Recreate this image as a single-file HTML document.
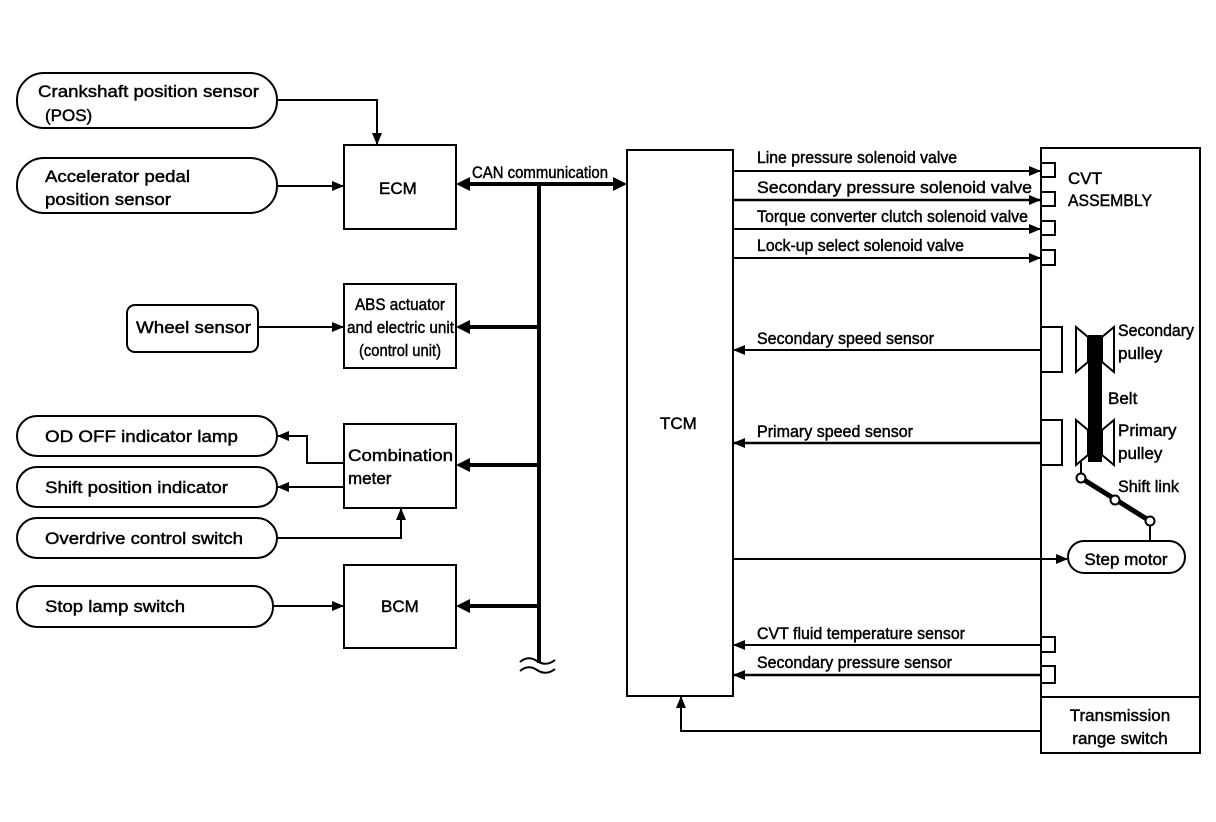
<!DOCTYPE html>
<html><head><meta charset="utf-8"><style>
html,body{margin:0;padding:0;background:#fff}
svg{display:block}
text{font-family:"Liberation Sans",Arial,sans-serif;font-size:17px;font-weight:normal;fill:#000;stroke:#000;stroke-width:0.45}
</style></head><body>
<svg width="1216" height="822" viewBox="0 0 1216 822" xmlns="http://www.w3.org/2000/svg">
<defs>
<marker id="a" markerWidth="12" markerHeight="10" refX="11" refY="5" orient="auto" markerUnits="userSpaceOnUse"><path d="M0,0 L12,5 L0,10 z" fill="#000" stroke="none"/></marker>
</defs>
<g fill="none" stroke="#000" stroke-width="2">
<rect x="17" y="73" width="260" height="55" rx="27"/>
<rect x="17" y="158" width="260" height="55" rx="27"/>
<rect x="127" y="305" width="131" height="47" rx="8"/>
<rect x="17" y="416" width="260" height="40" rx="20"/>
<rect x="17" y="467" width="260" height="40" rx="20"/>
<rect x="17" y="518" width="260" height="40" rx="20"/>
<rect x="17" y="586" width="256" height="41" rx="20"/>
<rect x="344" y="145" width="112" height="84"/>
<rect x="344" y="284" width="112" height="84"/>
<rect x="344" y="424" width="112" height="84"/>
<rect x="344" y="565" width="112" height="83"/>
<rect x="627" y="150" width="106" height="546"/>
<rect x="1041" y="148" width="159" height="605"/>
<line x1="1041" y1="697" x2="1200" y2="697"/>
<path d="M277,100 H377 V144" marker-end="url(#a)"/>
<path d="M277,186 H343" marker-end="url(#a)"/>
<path d="M258,327 H343" marker-end="url(#a)"/>
<path d="M344,463 H307 V436 H278" marker-end="url(#a)"/>
<path d="M344,487 H278" marker-end="url(#a)"/>
<path d="M277,538 H401 V509" marker-end="url(#a)"/>
<path d="M273,606 H343" marker-end="url(#a)"/>
<path d="M733,171 H1040" marker-end="url(#a)"/>
<path d="M733,200 H1040" marker-end="url(#a)" stroke-width="2.5"/>
<path d="M733,229 H1040" marker-end="url(#a)"/>
<path d="M733,258 H1040" marker-end="url(#a)"/>
<rect x="1041" y="163" width="14" height="14"/>
<rect x="1041" y="192" width="14" height="14"/>
<rect x="1041" y="221" width="14" height="14"/>
<rect x="1041" y="250" width="14" height="15"/>
<rect x="1041" y="327" width="21" height="45"/>
<rect x="1041" y="420" width="21" height="45"/>
<path d="M1041,350 H734" marker-end="url(#a)"/>
<path d="M1041,443 H734" marker-end="url(#a)" stroke-width="2.5"/>
<path d="M733,559 H1067" marker-end="url(#a)"/>
<rect x="1068" y="541" width="117" height="32" rx="16"/>
<rect x="1041" y="637" width="14" height="15"/>
<rect x="1041" y="666" width="14" height="17"/>
<path d="M1041,645 H734" marker-end="url(#a)"/>
<path d="M1041,675 H734" marker-end="url(#a)" stroke-width="2.5"/>
<path d="M1041,731 H681 V697" marker-end="url(#a)"/>
<path d="M1076,327 L1088,337 V362 L1076,372 Z"/>
<path d="M1114,327 L1102,337 V362 L1114,372 Z"/>
<path d="M1076,420 L1088,430 V455 L1076,465 Z"/>
<path d="M1114,420 L1102,430 V455 L1114,465 Z"/>
<line x1="1081" y1="462" x2="1081" y2="474"/>
<line x1="1150" y1="525" x2="1150" y2="541"/>
<line x1="1081" y1="478" x2="1150" y2="521" stroke-width="5"/>
<path d="M520,662 Q528,655 537,661 T555,660"/>
<path d="M520,671 Q528,664 537,670 T555,669"/>
</g>
<rect x="1088" y="335" width="14" height="127" fill="#000"/>
<g fill="#fff" stroke="#000" stroke-width="2">
<circle cx="1081" cy="478" r="4.5"/><circle cx="1115" cy="500" r="4.5"/><circle cx="1150" cy="521" r="4.5"/>
</g>
<g stroke="#000" stroke-width="4" fill="none">
<line x1="468" y1="184" x2="615" y2="184"/>
<line x1="539" y1="184" x2="539" y2="663"/>
<line x1="539" y1="327" x2="468" y2="327"/>
<line x1="539" y1="465" x2="468" y2="465"/>
<line x1="539" y1="606" x2="468" y2="606"/>
</g>
<g fill="#000">
<path d="M456,184 L470,177 L470,191 Z"/><path d="M627,184 L613,177 L613,191 Z"/>
<path d="M456,327 L470,320 L470,334 Z"/>
<path d="M456,465 L470,458 L470,472 Z"/>
<path d="M456,606 L470,599 L470,613 Z"/>
</g>
<text x="38" y="97" textLength="221" lengthAdjust="spacingAndGlyphs">Crankshaft position sensor</text>
<text x="45" y="121">(POS)</text>
<text x="45" y="182" textLength="145" lengthAdjust="spacingAndGlyphs">Accelerator pedal</text>
<text x="45" y="205" textLength="126" lengthAdjust="spacingAndGlyphs">position sensor</text>
<text x="379" y="194">ECM</text>
<text x="136" y="333" textLength="115" lengthAdjust="spacingAndGlyphs">Wheel sensor</text>
<text x="355" y="310" font-size="14" textLength="90" lengthAdjust="spacingAndGlyphs">ABS actuator</text>
<text x="347" y="333" font-size="14" textLength="107" lengthAdjust="spacingAndGlyphs">and electric unit</text>
<text x="359" y="356" font-size="14" textLength="82" lengthAdjust="spacingAndGlyphs">(control unit)</text>
<text x="45" y="442" textLength="193" lengthAdjust="spacingAndGlyphs">OD OFF indicator lamp</text>
<text x="45" y="493" textLength="183" lengthAdjust="spacingAndGlyphs">Shift position indicator</text>
<text x="45" y="544" textLength="198" lengthAdjust="spacingAndGlyphs">Overdrive control switch</text>
<text x="45" y="612" textLength="140" lengthAdjust="spacingAndGlyphs">Stop lamp switch</text>
<text x="348" y="461" textLength="105" lengthAdjust="spacingAndGlyphs">Combination</text>
<text x="348" y="484">meter</text>
<text x="381" y="612">BCM</text>
<text x="472" y="178" font-size="14" textLength="136" lengthAdjust="spacingAndGlyphs">CAN communication</text>
<text x="660" y="429">TCM</text>
<g font-size="14">
<text x="757" y="163" textLength="200" lengthAdjust="spacingAndGlyphs">Line pressure solenoid valve</text>
<text x="757" y="193" textLength="275" lengthAdjust="spacingAndGlyphs">Secondary pressure solenoid valve</text>
<text x="757" y="222" textLength="271" lengthAdjust="spacingAndGlyphs">Torque converter clutch solenoid valve</text>
<text x="757" y="251" textLength="207" lengthAdjust="spacingAndGlyphs">Lock-up select solenoid valve</text>
<text x="757" y="344" textLength="177" lengthAdjust="spacingAndGlyphs">Secondary speed sensor</text>
<text x="757" y="437" textLength="156" lengthAdjust="spacingAndGlyphs">Primary speed sensor</text>
<text x="757" y="639" textLength="208" lengthAdjust="spacingAndGlyphs">CVT fluid temperature sensor</text>
<text x="757" y="668" textLength="195" lengthAdjust="spacingAndGlyphs">Secondary pressure sensor</text>
</g>
<text x="1068" y="184" font-size="16">CVT</text>
<text x="1068" y="206" font-size="16" textLength="84" lengthAdjust="spacingAndGlyphs">ASSEMBLY</text>
<text x="1118" y="336" font-size="16" textLength="76" lengthAdjust="spacingAndGlyphs">Secondary</text>
<text x="1118" y="359" font-size="16">pulley</text>
<text x="1108" y="404" font-size="16">Belt</text>
<text x="1118" y="436" font-size="16">Primary</text>
<text x="1118" y="459" font-size="16">pulley</text>
<text x="1118" y="492" font-size="16" textLength="61" lengthAdjust="spacingAndGlyphs">Shift link</text>
<text x="1126" y="565" text-anchor="middle" font-size="16">Step motor</text>
<text x="1120" y="721" text-anchor="middle" font-size="16">Transmission</text>
<text x="1120" y="744" text-anchor="middle" font-size="16">range switch</text>
</svg>
</body></html>
